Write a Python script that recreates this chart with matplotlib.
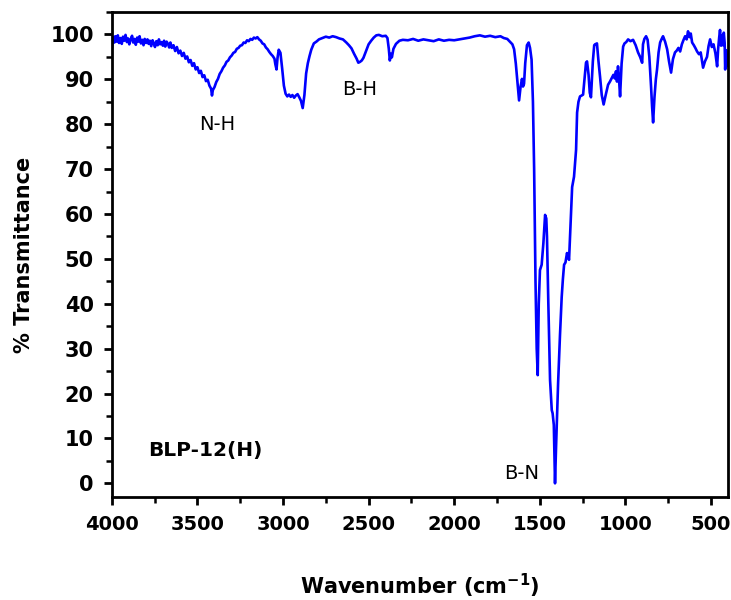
import matplotlib.pyplot as plt
from matplotlib.ticker import MultipleLocator

plt.rcParams['font.family'] = ['DejaVu Sans']

# FTIR spectrum of BLP-12(H)
wavenumber = [
    4000, 3995, 3990, 3985, 3980, 3972, 3965, 3958, 3950, 3942, 3935, 3928, 3920, 3912,
    3905, 3898, 3890, 3882, 3875, 3868, 3860, 3852, 3845, 3838, 3830, 3822, 3815, 3808,
    3800, 3792, 3785, 3778, 3770, 3762, 3755, 3748, 3740, 3732, 3725, 3718, 3710, 3702,
    3695, 3688, 3680, 3672, 3665, 3658, 3650, 3640, 3630, 3620, 3610, 3600, 3590, 3580,
    3570, 3560, 3550, 3540, 3530, 3520, 3510, 3500, 3490, 3480, 3470, 3460, 3450, 3440,
    3430, 3420, 3415, 3410, 3400, 3390, 3380, 3370, 3360, 3350, 3340, 3330, 3320, 3310,
    3300, 3290, 3280, 3270, 3260, 3250, 3240, 3230, 3220, 3210, 3200, 3190, 3180, 3170,
    3160, 3150, 3140, 3130, 3120, 3110, 3100, 3090, 3080, 3070, 3060, 3050, 3045, 3038,
    3032, 3025, 3015, 3005, 2995, 2985, 2975, 2965, 2955, 2945, 2935, 2925, 2915, 2905,
    2895, 2885, 2875, 2865, 2855, 2845, 2835, 2820, 2805, 2790, 2770, 2750, 2730, 2710,
    2690, 2670, 2650, 2630, 2615, 2600, 2585, 2570, 2560, 2550, 2540, 2530, 2515, 2500,
    2485, 2470, 2455, 2440, 2420, 2400, 2390, 2382, 2376, 2370, 2364, 2355, 2340, 2320,
    2300, 2270, 2240, 2210, 2180, 2150, 2120, 2090, 2060, 2030, 2000, 1970, 1940, 1910,
    1880, 1850, 1820, 1790, 1760, 1730, 1710, 1690, 1675, 1660, 1650, 1640, 1630, 1621,
    1612, 1604, 1598, 1592, 1585, 1575, 1565, 1557, 1548, 1540, 1533, 1525, 1518, 1512,
    1506, 1499, 1489, 1479, 1469, 1462, 1458, 1450, 1440, 1430, 1425, 1418, 1411, 1405,
    1393, 1382, 1372, 1365, 1358, 1350, 1341, 1335, 1329, 1320, 1311, 1300, 1288, 1282,
    1274, 1265, 1255, 1247, 1238, 1230, 1224, 1215, 1208, 1201, 1190, 1182, 1177, 1166,
    1157, 1148, 1138, 1127, 1115, 1101, 1090, 1078, 1070, 1062, 1055, 1049, 1043, 1037,
    1031, 1022, 1013, 1005, 995, 984, 970, 955, 940, 926, 914, 902, 897, 889,
    879, 870, 860, 850, 844, 838, 830, 822, 815, 806, 797, 788, 780, 768,
    756, 745, 733, 722, 710, 700, 690, 680, 670, 660, 651, 642, 634, 625,
    618, 610, 600, 590, 581, 570, 560, 546, 535, 523, 514, 505, 495, 485,
    474, 464, 458, 452, 447, 441, 436, 430, 425, 420, 417, 412, 405, 400,
]
transmittance = [
    96.8, 98.5, 99.4, 98.2, 99.6, 98.4, 99.8, 98.1, 99.2, 97.9, 99.5, 98.6, 99.9, 98.3,
    99.1, 97.8, 98.9, 99.7, 98.2, 99.0, 97.7, 99.3, 98.4, 99.6, 98.0, 98.8, 97.6, 99.0,
    98.1, 98.9, 97.9, 98.6, 97.4, 98.7, 98.0, 97.2, 98.5, 97.6, 98.9, 97.8, 98.3, 97.5,
    98.6, 97.3, 98.4, 97.9, 97.1, 98.2, 97.0, 97.6, 96.3, 97.2, 95.8, 96.4, 95.2, 95.9,
    94.6, 95.1, 93.8, 94.3, 93.0, 93.6, 92.2, 92.7, 91.4, 91.9, 90.5, 90.9, 89.6, 89.9,
    88.6, 87.9, 86.4, 87.6, 88.3, 89.4, 90.1, 91.2, 91.8, 92.6, 93.1, 93.9, 94.2, 94.9,
    95.3, 95.9, 96.1, 96.8, 97.0, 97.5, 97.6, 98.2, 98.1, 98.7, 98.5, 99.0, 98.8, 99.3,
    99.1, 99.4, 98.9, 98.6, 98.0, 97.8, 97.1, 96.7, 96.1, 95.6, 95.2, 94.6, 93.4, 92.2,
    94.8, 96.6, 95.9, 92.4, 88.6, 86.8, 86.2, 86.6, 86.1, 86.5, 85.9, 86.4, 86.7, 86.0,
    85.2, 83.6, 86.5, 91.3, 93.6, 95.2, 96.6, 98.0, 98.4, 98.9, 99.2, 99.5, 99.3, 99.6,
    99.4, 99.1, 98.9, 98.2, 97.6, 96.9, 95.7, 94.6, 93.7, 93.9, 94.2, 94.8, 96.3, 97.8,
    98.6, 99.3, 99.8, 99.9, 99.6, 99.7, 99.2, 96.8, 94.2, 95.7, 94.9, 96.8, 97.9, 98.6,
    98.8, 98.7, 99.0, 98.6, 98.9, 98.7, 98.5, 98.9, 98.6, 98.8, 98.7, 98.9, 99.1, 99.3,
    99.6, 99.8, 99.5, 99.7, 99.4, 99.6, 99.2, 99.0, 98.4, 97.8, 96.7, 93.5, 89.2, 85.3,
    88.4, 90.1, 88.4, 89.0, 93.6, 97.6, 98.2, 97.0, 94.4, 85.0, 70.0, 45.0, 30.0, 24.1,
    40.0, 47.5, 48.7, 53.5, 59.8, 59.0, 55.0, 40.0, 23.0, 16.3, 15.6, 13.0, 0.0, 8.0,
    22.3, 33.0, 41.5, 45.5, 48.7, 49.2, 51.3, 50.5, 49.8, 58.0, 66.0, 68.3, 74.3, 82.6,
    85.0, 86.2, 86.4, 86.6, 90.5, 93.7, 94.0, 91.0, 87.0, 86.0, 94.0, 97.6, 97.8, 98.0,
    94.0, 90.6, 86.5, 84.4, 86.5, 88.8, 89.5, 90.4, 91.0, 90.2, 91.8, 89.5, 92.9, 90.0,
    86.2, 93.5, 97.3, 98.0, 98.3, 98.9, 98.5, 98.8, 97.6, 96.0, 95.0, 93.7, 97.8, 99.0,
    99.6, 98.8, 95.0, 88.4, 84.0, 80.4, 86.0, 90.0, 92.2, 96.0, 98.2, 99.0, 99.6, 98.4,
    96.7, 94.0, 91.5, 94.5, 96.0, 96.4, 97.0, 96.2, 97.8, 98.8, 99.6, 98.9, 100.7, 99.4,
    100.2, 98.2, 97.6, 96.9, 96.2, 95.6, 96.0, 92.6, 94.0, 95.0, 97.4, 98.9, 97.2, 97.8,
    95.8, 92.9, 96.8, 99.3, 101.0, 97.5, 99.8, 97.6, 100.4, 98.1, 92.2, 96.5, 94.0, 93.0,
]

fig, ax = plt.subplots(figsize=(7.31, 6.0), dpi=100)
fig.subplots_adjust(left=0.153, right=0.996, top=0.98, bottom=0.172)

ax.plot(wavenumber, transmittance, color='#0000ff', linewidth=1.9)

ax.set_xlim(4000, 400)
ax.set_ylim(-3, 105)
ax.xaxis.set_major_locator(MultipleLocator(500))
ax.xaxis.set_minor_locator(MultipleLocator(250))
ax.yaxis.set_minor_locator(MultipleLocator(5))
ax.set_yticks(range(0, 101, 10))

for side in ax.spines.values():
    side.set_linewidth(2.0)
ax.tick_params(which='major', length=6, width=2.0, labelsize=15, pad=7)
ax.tick_params(axis='x', labelsize=14)
ax.tick_params(which='minor', length=4, width=1.8)
for lab in ax.get_xticklabels() + ax.get_yticklabels():
    lab.set_fontweight('bold')

ax.set_xlabel('Wavenumber (cm$^{\\mathbf{-1}}$)', fontsize=15, fontweight='bold', labelpad=27)
ax.set_ylabel('% Transmittance', fontsize=15, fontweight='bold', labelpad=12)

ax.text(3386, 80, 'N-H', fontsize=14, ha='center', va='center')
ax.text(2550, 87.7, 'B-H', fontsize=14, ha='center', va='center')
ax.text(1604, 2.3, 'B-N', fontsize=14, ha='center', va='center')
ax.text(3790, 7.4, 'BLP-12(H)', fontsize=14.5, fontweight='bold', ha='left', va='center')

fig.savefig('out.png', dpi=100)
